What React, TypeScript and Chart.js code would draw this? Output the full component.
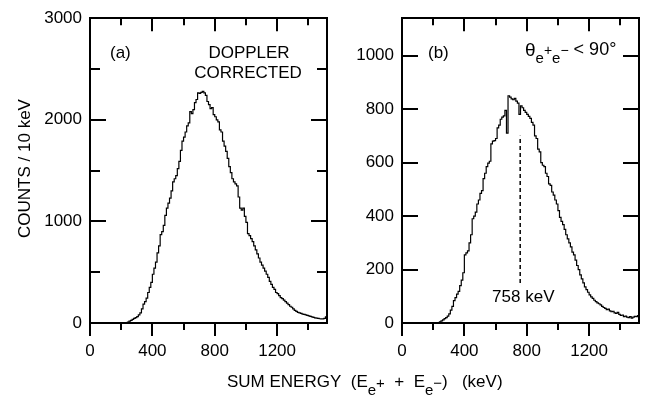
import React, { useEffect, useRef } from "react";
import { Chart, registerables } from "chart.js";

Chart.register(...registerables);

// ---------------- data ----------------
const BIN_WIDTH_KEV = 10;
const X_MAX = 1520;
const xTickLabels = [0, 400, 800, 1200];
const xMinorTicks = [200, 600, 1000, 1400];
const yTickLabelsA = [0, 1000, 2000, 3000];
const yMinorTicksA = [500, 1500, 2500];
const yTickLabelsB = [0, 200, 400, 600, 800, 1000];
const yMinorTicksB: number[] = [];
const Y_MAX_A = 3000;
const Y_MAX_B = 1140;

// counts per 10 keV bin, bins starting at 0 keV (panel a, Doppler corrected)
const countsA = [
  0, 0, 0, 0, 0, 0, 0, 0, 0, 0, 0, 0, 0, 0, 0, 0, 0, 0, 0, 0, 0, 0, 0,
  5, 10, 18, 25, 35, 45, 52, 62, 80, 100, 140, 185, 210, 245, 300, 350, 400,
  480, 540, 600, 690, 760, 870, 900, 960, 1060, 1130, 1180, 1230, 1300, 1390,
  1420, 1450, 1520, 1590, 1700, 1790, 1830, 1880, 1940, 1970, 2080, 2060, 2100,
  2170, 2200, 2265, 2260, 2270, 2280, 2265, 2240, 2180, 2150, 2110, 2120, 2050,
  2030, 2000, 1980, 1900, 1880, 1790, 1740, 1690, 1620, 1540, 1480, 1420, 1390,
  1370, 1350, 1240, 1130, 1110, 1130, 1050, 990, 880, 860, 830, 800, 760, 720,
  680, 640, 600, 570, 540, 510, 480, 450, 410, 380, 350, 330, 300, 290, 270,
  250, 240, 225, 210, 195, 180, 165, 155, 140, 125, 115, 105, 100, 95, 88, 85,
  80, 75, 70, 65, 60, 55, 50, 48, 45, 42, 40, 40, 45, 60,
];

// counts per 10 keV bin, bins starting at 0 keV (panel b, theta < 90 deg)
const countsB = [
  0, 0, 0, 0, 0, 0, 0, 0, 0, 0, 0, 0, 0, 0, 0, 0, 0, 0, 0, 0, 0, 0, 0, 0,
  4, 8, 12, 16, 20, 26, 34, 48, 62, 84, 95, 108, 118, 140, 160, 188, 255, 262,
  270, 300, 330, 390, 400, 415, 445, 460, 485, 495, 540, 560, 585, 598, 605,
  670, 680, 682, 690, 730, 740, 762, 770, 775, 795, 710, 850, 845, 838, 835,
  840, 830, 822, 780, 812, 805, 795, 788, 780, 773, 765, 750, 740, 700, 690,
  650, 640, 600, 590, 585, 560, 548, 520, 515, 490, 478, 460, 445, 420, 395,
  380, 368, 350, 330, 315, 300, 285, 265, 255, 235, 215, 200, 180, 165, 150,
  135, 125, 115, 105, 98, 92, 85, 80, 75, 72, 68, 62, 58, 55, 50, 52, 45, 42,
  44, 38, 36, 40, 32, 28, 30, 24, 26, 22, 20, 24, 18, 22, 25, 24, 28,
];

const peakEnergy = 758;
const peakLineCounts = [150, 700];
const peakLabel = "758 keV";
const peakLabelAt = { x: 778, y: 96 };

// ---------------- styling ----------------
const FONT = '"Liberation Sans", Arial, Helvetica, sans-serif';
const FS = 17;
const BORDER = { display: true, color: "#000", width: 2 };

function toHist(counts: number[]) {
  const pts = counts.map((c, i) => ({ x: i * BIN_WIDTH_KEV, y: c }));
  pts.push({ x: counts.length * BIN_WIDTH_KEV, y: counts[counts.length - 1] });
  return pts;
}

type Run = { text: string; size: number; dy: number };
function drawRuns(ctx: CanvasRenderingContext2D, runs: Run[], x: number, baseline: number) {
  ctx.textAlign = "left";
  ctx.textBaseline = "alphabetic";
  for (const r of runs) {
    ctx.font = `${r.size}px ${FONT}`;
    ctx.fillText(r.text, x, baseline + r.dy);
    x += ctx.measureText(r.text).width;
  }
  return x;
}

function drawTicks(
  chart: any,
  xMajor: number[],
  xMinor: number[],
  yMajor: number[],
  yMinor: number[]
) {
  const ctx: CanvasRenderingContext2D = chart.ctx;
  const xs = chart.scales.x;
  const ys = chart.scales.y;
  const a = chart.chartArea;
  ctx.save();
  ctx.strokeStyle = "#000";
  ctx.lineWidth = 2;
  ctx.beginPath();
  for (const [vals, len] of [
    [xMajor, 13],
    [xMinor, 7],
  ] as [number[], number][]) {
    for (const v of vals) {
      const p = Math.round(xs.getPixelForValue(v));
      ctx.moveTo(p, a.bottom);
      ctx.lineTo(p, a.bottom + len);
      ctx.moveTo(p, a.top);
      ctx.lineTo(p, a.top + len);
    }
  }
  for (const [vals, len] of [
    [yMajor, 16],
    [yMinor, 10],
  ] as [number[], number][]) {
    for (const v of vals) {
      const p = Math.round(ys.getPixelForValue(v));
      ctx.moveTo(a.left, p);
      ctx.lineTo(a.left + len, p);
      ctx.moveTo(a.right, p);
      ctx.lineTo(a.right - len, p);
    }
  }
  ctx.stroke();
  ctx.restore();
}

function makeOptions(yMax: number, yTicks: number[], padding: any, yWidth: number): any {
  return {
    responsive: false,
    maintainAspectRatio: false,
    animation: false,
    layout: { padding },
    plugins: {
      legend: { display: false },
      tooltip: { enabled: false },
      title: { display: false },
    },
    elements: { point: { radius: 0 } },
    scales: {
      x: {
        type: "linear",
        position: "bottom",
        min: 0,
        max: X_MAX,
        grid: { display: false, drawTicks: false },
        border: BORDER,
        afterBuildTicks: (s: any) => {
          s.ticks = xTickLabels.map((v) => ({ value: v }));
        },
        afterFit: (s: any) => {
          s.height = 76;
        },
        ticks: {
          padding: 18,
          maxRotation: 0,
          color: "#000",
          font: { family: FONT, size: FS },
          callback: (v: any) => String(v),
        },
      },
      xTop: {
        type: "linear",
        position: "top",
        min: 0,
        max: X_MAX,
        grid: { display: false, drawTicks: false },
        border: BORDER,
        ticks: { display: false },
        afterFit: (s: any) => {
          s.height = 0;
        },
      },
      y: {
        type: "linear",
        position: "left",
        min: 0,
        max: yMax,
        grid: { display: false, drawTicks: false },
        border: BORDER,
        afterBuildTicks: (s: any) => {
          s.ticks = yTicks.map((v) => ({ value: v }));
        },
        afterFit: (s: any) => {
          s.width = yWidth;
        },
        ticks: {
          padding: 8,
          color: "#000",
          font: { family: FONT, size: FS },
          callback: (v: any) => String(v),
        },
      },
      yRight: {
        type: "linear",
        position: "right",
        min: 0,
        max: yMax,
        grid: { display: false, drawTicks: false },
        border: BORDER,
        ticks: { display: false },
        afterFit: (s: any) => {
          s.width = 0;
        },
      },
    },
  };
}

export default function App() {
  const refA = useRef<HTMLCanvasElement>(null);
  const refB = useRef<HTMLCanvasElement>(null);

  useEffect(() => {
    const annotA = {
      id: "annotA",
      afterDraw(chart: any) {
        drawTicks(chart, xTickLabels, xMinorTicks, yTickLabelsA, yMinorTicksA);
        const { ctx, chartArea: a } = chart;
        ctx.save();
        ctx.fillStyle = "#000";
        ctx.font = `${FS}px ${FONT}`;
        ctx.textAlign = "left";
        ctx.textBaseline = "middle";
        ctx.fillText("(a)", a.left + 20, a.top + 35);
        ctx.textAlign = "center";
        ctx.fillText("DOPPLER", 249, a.top + 35);
        ctx.fillText("CORRECTED", 248, a.top + 55);
        // y-axis title
        ctx.save();
        ctx.translate(25, 168.5);
        ctx.rotate(-Math.PI / 2);
        ctx.textAlign = "center";
        ctx.textBaseline = "middle";
        ctx.fillText("COUNTS / 10 keV", 0, 0);
        ctx.restore();
        // shared x-axis title
        drawRuns(
          ctx,
          [
            { text: "SUM ENERGY  (E", size: FS, dy: 0 },
            { text: "e", size: 15, dy: 8 },
            { text: "+", size: 15, dy: 1 },
            { text: "  +  E", size: FS, dy: 0 },
            { text: "e", size: 15, dy: 8 },
            { text: "\u2212", size: 15, dy: 1 },
            { text: ")   (keV)", size: FS, dy: 0 },
          ],
          227,
          387
        );
        ctx.restore();
      },
    };

    const annotB = {
      id: "annotB",
      afterDraw(chart: any) {
        drawTicks(chart, xTickLabels, xMinorTicks, yTickLabelsB, yMinorTicksB);
        const { ctx, chartArea: a, scales } = chart;
        ctx.save();
        ctx.fillStyle = "#000";
        ctx.font = `${FS}px ${FONT}`;
        ctx.textAlign = "left";
        ctx.textBaseline = "middle";
        ctx.fillText("(b)", a.left + 26, a.top + 35);
        ctx.textAlign = "center";
        ctx.fillText(
          peakLabel,
          scales.x.getPixelForValue(peakLabelAt.x),
          scales.y.getPixelForValue(peakLabelAt.y)
        );
        drawRuns(
          ctx,
          [
            { text: "\u03b8", size: 19, dy: 0 },
            { text: "e", size: 15, dy: 7 },
            { text: "+", size: 14, dy: -1 },
            { text: "e", size: 15, dy: 7 },
            { text: "\u2212", size: 14, dy: -1 },
            { text: " < 90\u00b0", size: 18, dy: -1 },
          ],
          a.left + 123,
          56
        );
        ctx.restore();
      },
    };

    const chartA = new Chart(refA.current!, {
      type: "line",
      data: {
        datasets: [
          {
            data: toHist(countsA),
            stepped: true,
            borderColor: "#000",
            borderWidth: 1.2,
            pointRadius: 0,
            fill: false,
          },
        ],
      },
      options: makeOptions(Y_MAX_A, yTickLabelsA, { left: 0, top: 14, right: 318, bottom: 0 }, 90),
      plugins: [annotA],
    } as any);

    const chartB = new Chart(refB.current!, {
      type: "line",
      data: {
        datasets: [
          {
            data: toHist(countsB),
            stepped: true,
            borderColor: "#000",
            borderWidth: 1.2,
            pointRadius: 0,
            fill: false,
          },
          {
            data: peakLineCounts.map((c) => ({ x: peakEnergy, y: c })),
            borderColor: "#000",
            borderWidth: 1.5,
            borderDash: [4, 3],
            pointRadius: 0,
            fill: false,
          },
        ],
      },
      options: makeOptions(Y_MAX_B, yTickLabelsB, { left: 342, top: 14, right: 6, bottom: 0 }, 60),
      plugins: [annotB],
    } as any);

    return () => {
      chartA.destroy();
      chartB.destroy();
    };
  }, []);

  const cs: React.CSSProperties = {
    position: "absolute",
    left: 0,
    top: 0,
    width: 645,
    height: 399,
  };
  return (
    <div
      style={{
        position: "fixed",
        left: 0,
        top: 0,
        width: 645,
        height: 399,
        background: "#fff",
      }}
    >
      <canvas ref={refA} width={645} height={399} style={cs} />
      <canvas ref={refB} width={645} height={399} style={cs} />
    </div>
  );
}
